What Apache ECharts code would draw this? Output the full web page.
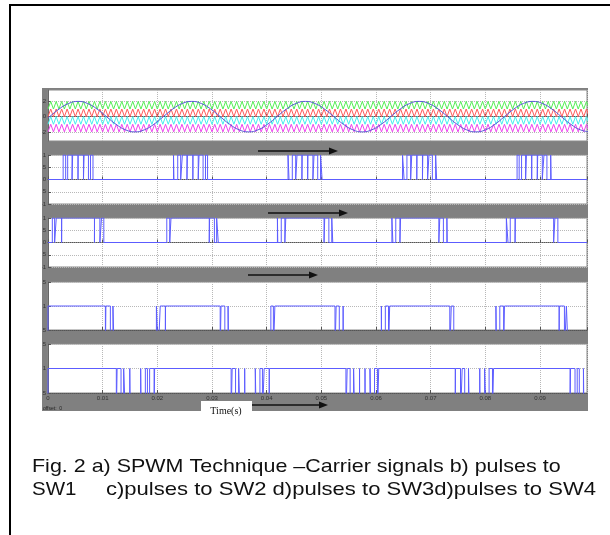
<!DOCTYPE html>
<html><head><meta charset="utf-8">
<script src="https://cdn.jsdelivr.net/npm/echarts@6/dist/echarts.min.js"></script>
<style>html,body{margin:0;padding:0;background:#fff}#c{width:610px;height:535px}</style>
</head><body><div id="c"></div>
<script>
// ---------- data (time in ms) ----------
const timeTickLabels = ['0','0.01','0.02','0.03','0.04','0.05','0.06','0.07','0.08','0.09'];
const tEndMs = 98.6;

// reference sine (read at zero crossings, peaks and 30-degree points)
const sineT = [0,0.3,2.03,3.77,5.5,7.23,8.97,10.7,12.43,14.17,15.9,17.63,19.37,21.1,22.83,24.57,26.3,28.03,29.77,31.5,33.23,34.97,36.7,38.43,40.17,41.9,43.63,45.37,47.1,48.83,50.57,52.3,54.03,55.77,57.5,59.23,60.97,62.7,64.43,66.17,67.9,69.63,71.37,73.1,74.83,76.57,78.3,80.03,81.77,83.5,85.23,86.97,88.7,90.43,92.17,93.9,95.63,97.37,99.1];
const sineV = [-0.18,
  0,1,1.73,2,1.73,1,0,-1,-1.73,-2,-1.73,-1,
  0,1,1.73,2,1.73,1,0,-1,-1.73,-2,-1.73,-1,
  0,1,1.73,2,1.73,1,0,-1,-1.73,-2,-1.73,-1,
  0,1,1.73,2,1.73,1,0,-1,-1.73,-2,-1.73,-1,
  0,1,1.73,2,1.73,1,0,-1,-1.73,-2];

// level-shifted triangular carriers: half period (ms) and [low, high] bands
const carrierHalfPeriodMs = 0.5;
const carrierBands = [[1,2],[0,1],[-1,0],[-2,-1]];

// gate pulses: intervals (ms) where the signal is high
const sw1High = [
 [2.77,3.23],[3.60,4.40],[4.51,5.49],[5.51,6.49],[6.60,7.40],[7.77,8.23],
 [22.96,23.04],[23.73,24.27],[24.58,25.42],[25.50,26.50],[26.52,27.48],[27.63,28.37],[28.81,29.19],
 [43.91,44.09],[44.69,45.31],[45.55,46.45],[46.50,47.50],[47.54,48.46],[48.66,49.34],[49.86,50.14],
 [64.86,65.14],[65.66,66.34],[66.54,67.46],[67.50,68.50],[68.56,69.44],[69.69,70.31],[70.91,71.09],
 [85.81,86.19],[86.63,87.37],[87.52,88.48],[88.50,89.50],[89.58,90.42],[90.73,91.27],[91.96,92.04]];
const sw2High = [
 [0.79,1.21],[1.51,2.49],[2.50,8.50],[8.51,9.49],[9.79,10.21],
 [21.73,22.27],[22.50,29.50],[29.56,30.44],[30.85,31.15],
 [41.97,42.03],[42.67,43.33],[43.50,50.50],[50.62,51.38],[51.91,52.09],
 [62.91,63.09],[63.62,64.38],[64.50,71.50],[71.67,72.33],[72.97,73.03],
 [83.85,84.15],[84.56,85.44],[85.50,92.50],[92.73,93.27]];
const sw3High = [
 [0,10.50],[10.59,11.41],[11.88,12.12],[19.83,20.17],[20.53,21.47],
 [21.50,31.50],[31.65,32.35],[32.94,33.06],[40.77,41.23],
 [41.50,52.50],[52.71,53.29],[53.99,54.01],[60.99,61.01],[61.71,62.29],
 [62.50,73.50],[73.77,74.23],[81.94,82.06],[82.65,83.35],
 [83.50,93.50],[93.53,94.47],[94.83,95.17]];
const sw4High = [
 [0,12.50],[12.64,13.36],[13.84,14.16],[14.96,15.04],[16.95,17.05],[17.81,18.19],[18.59,19.41],
 [19.50,33.50],[33.69,34.31],[34.87,35.13],[35.98,36.02],[37.92,38.08],[38.77,39.23],[39.54,40.46],
 [40.50,54.50],[54.73,55.27],[55.90,56.10],[56.99,57.01],[57.99,58.01],[58.90,59.10],[59.73,60.27],
 [60.50,74.50],[74.54,75.46],[75.77,76.23],[76.92,77.08],[78.98,79.02],[79.87,80.13],[80.69,81.31],
 [81.50,95.50],[95.59,96.41],[96.81,97.19],[97.95,98.05]];

const captionLine1 = 'Fig. 2 a) SPWM Technique \u2013Carrier signals b) pulses to';
const captionLine2a = 'SW1';
const captionLine2b = 'c)pulses to SW2 d)pulses to SW3d)pulses to SW4';

// ---------- build ----------
function carrierData(band){
  const d=[]; let k=0;
  for(let t=0;t<=tEndMs+carrierHalfPeriodMs;t+=carrierHalfPeriodMs){ d.push([t, k%2===0?band[0]:band[1]]); k++; }
  return d;
}
function stepData(intervals){
  const d=[[0,0]];
  intervals.forEach(([a,b])=>{ d.push([a,0],[a,1],[b,1],[b,0]); });
  d.push([tEndMs,0]);
  return d;
}
const sineData = sineT.map((t,i)=>[t,sineV[i]]);

const L=48, W=539;
const tops=[90,155,218,282,344], hs=[51,49,49,48,49];
const yCfg=[{min:-3.2,max:3.5,custom:[-2,0,2]},{min:-1,max:1,interval:0.5},{min:-1,max:1,interval:0.5},{min:0.5,max:1.5,interval:0.5},{min:0.5,max:1.5,interval:0.5}];
const dotted={type:'dotted',color:'#b8b8b8',width:1};
const grids=[],xAxes=[],yAxes=[];
for(let i=0;i<5;i++){
  grids.push({left:L,top:tops[i],width:W,height:hs[i],show:true,backgroundColor:'#fff',borderColor:'#8a8a8a',borderWidth:1,outerBoundsMode:'none',containLabel:false});
  xAxes.push({gridIndex:i,type:'value',min:0,max:tEndMs,interval:10,
    axisLine:{show:true,lineStyle:{color:'#555',width:1,type:'dotted'}},
    axisTick:{show:true,inside:true,length:3,lineStyle:{color:'#555'}},
    axisLabel:{show:i===4,fontSize:6,color:'#333',margin:2,showMaxLabel:false,
      formatter:v=>{const k=Math.round(v/10);return Math.abs(v-k*10)<0.01&&timeTickLabels[k]!==undefined?timeTickLabels[k]:'';}},
    splitLine:{show:true,lineStyle:dotted}});
  const c=yCfg[i];
  const y={gridIndex:i,type:'value',min:c.min,max:c.max,
    axisLine:{show:true,lineStyle:{color:'#666'}},
    axisTick:{show:true,inside:true,length:3,lineStyle:{color:'#555'}},
    axisLabel:{fontSize:6,color:'#333',margin:2,formatter:v=>String(v)},
    splitLine:{show:true,lineStyle:dotted}};
  if(c.custom){y.axisLabel.customValues=c.custom;y.axisTick.customValues=c.custom;}
  else y.interval=c.interval;
  yAxes.push(y);
}
const carrierColors=['#55ee55','#ff5a5a','#44eeee','#ee44ee'];
const series=[];
carrierBands.forEach((b,i)=>series.push({type:'line',xAxisIndex:0,yAxisIndex:0,data:carrierData(b),showSymbol:false,silent:true,
  lineStyle:{color:carrierColors[i],width:1},z:2}));
series.push({type:'line',xAxisIndex:0,yAxisIndex:0,data:sineData,smooth:true,showSymbol:false,lineStyle:{color:'#5a5ad6',width:1},z:3});
[sw1High,sw2High,sw3High,sw4High].forEach((iv,i)=>series.push({type:'line',xAxisIndex:i+1,yAxisIndex:i+1,data:stepData(iv),
  showSymbol:false,clip:true,lineStyle:{color:'#5c5cff',width:1},z:3}));

function arrow(x1,x2,y){
  return [{type:'line',z:100,shape:{x1:x1,y1:y,x2:x2-6,y2:y},style:{stroke:'#111',lineWidth:1.6}},
          {type:'polygon',z:100,shape:{points:[[x2,y],[x2-9,y-3.5],[x2-9,y+3.5]]},style:{fill:'#111'}}];
}
const capFont='19px "Liberation Sans", Arial, sans-serif';
const graphic=[
  {type:'rect',z:-10,shape:{x:42,y:88,width:546,height:323},style:{fill:'#808080'}},
  {type:'rect',z:100,shape:{x:11,y:84,width:31,height:330},style:{fill:'#fff'}},
  {type:'polyline',z:100,shape:{points:[[10,535],[10,5],[610,5]]},style:{stroke:'#000',lineWidth:2,fill:null}},
  ...arrow(258,338,151),...arrow(268,348,213),...arrow(248,318,275),...arrow(251,328,405),
  {type:'rect',z:100,shape:{x:201,y:401,width:51,height:14},style:{fill:'#fff'}},
  {type:'text',z:101,x:226,y:411,style:{text:'Time(s)',font:'10px "Liberation Serif", "Times New Roman", serif',fill:'#111',align:'center',verticalAlign:'middle'}},
  {type:'text',z:101,x:43,y:409,style:{text:'offset:  0',font:'5px "Liberation Sans", Arial, sans-serif',fill:'#222',align:'left',verticalAlign:'middle'}},
  {type:'text',z:101,x:32,y:467,scaleX:1.13,style:{text:captionLine1,font:capFont,fill:'#111',align:'left',verticalAlign:'middle'}},
  {type:'text',z:101,x:32,y:490,scaleX:1.08,style:{text:captionLine2a,font:capFont,fill:'#111',align:'left',verticalAlign:'middle'}},
  {type:'text',z:101,x:106,y:490,scaleX:1.16,style:{text:captionLine2b,font:capFont,fill:'#111',align:'left',verticalAlign:'middle'}}
];
const chart=echarts.init(document.getElementById('c'),null,{renderer:'canvas'});
chart.setOption({animation:false,backgroundColor:'#fff',grid:grids,xAxis:xAxes,yAxis:yAxes,series:series,graphic:graphic});
</script></body></html>
